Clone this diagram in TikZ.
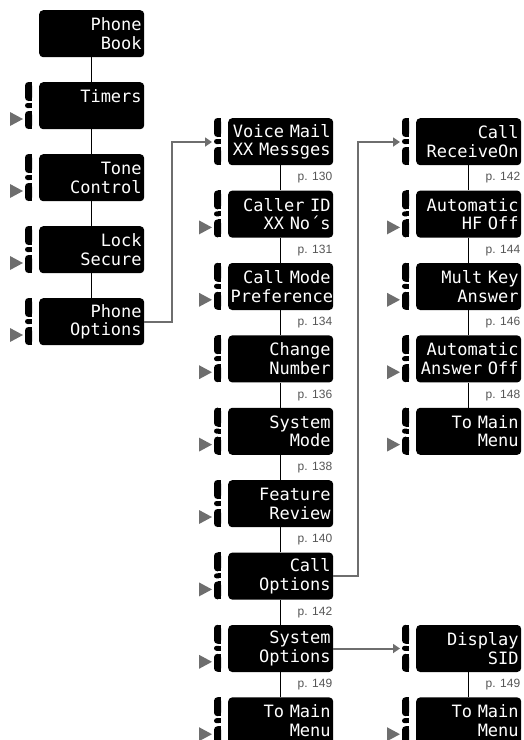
\documentclass[tikz,border=0pt]{standalone}
\usepackage{fontspec}
\setsansfont{Liberation Sans}
\newfontfamily\lcdfont{DejaVu Sans Mono}
\usetikzlibrary{arrows.meta}
\definecolor{keygray}{HTML}{6E6E6E}
\definecolor{pagegray}{HTML}{555555}
\tikzset{
  keys/.pic={
    \fill[rounded corners=3.5pt] (-14,0) rectangle (-7,19); \fill (-10,0) rectangle (-7,19);
    \fill[rounded corners=2.5pt] (-14,21) rectangle (-7,26); \fill (-10,21) rectangle (-7,26);
    \fill[rounded corners=3.5pt] (-14,29) rectangle (-7,47); \fill (-10,29) rectangle (-7,47);
  },
  keysmark/.pic={
    \pic {keys};
    \fill[keygray] (-29,30) -- (-16,37) -- (-29,44) -- cycle;
  }
}
\begin{document}
\begin{tikzpicture}[x=1pt,y=-1pt,
  menubox/.style={fill=black,rounded corners=4pt,text=white,anchor=north west,minimum height=47pt,text width=100pt,inner xsep=2.5pt,inner ysep=0pt,align=right,font=\lcdfont\fontsize{17}{18.5}\selectfont},
  pagelbl/.style={anchor=north east,inner sep=0pt,text=pagegray,font=\sffamily\fontsize{12}{14}\selectfont},
  menuline/.style={line width=1.3pt},
  jump/.style={keygray,line width=2pt,-{Triangle[length=7pt,width=9pt]}}]
\useasboundingbox (0,0) rectangle (523,740);
% Phone book menu
\foreach \i/\nm/\txt in {0/pb/{Phone\\Book},1/tm/{Timers\\\mbox{}},2/tc/{Tone\\Control},3/ls/{Lock\\Secure},4/po/{Phone\\Options}} {\node[menubox] (\nm) at (39,10+72*\i) {\txt};}
% Phone options menu
\foreach \i/\nm/\txt in {0/vm/{Voice Mail\\XX Messges},1/ci/{Caller ID\\XX No´s},2/cm/{Call Mode\\Preference},3/cn/{Change\\Number},4/sm/{System\\Mode},5/fr/{Feature\\Review},6/co/{Call\\Options},7/so/{System\\Options},8/mmb/{To Main\\Menu}} {\node[menubox] (\nm) at (228,118+72.4*\i) {\txt};}
% Call options and system options menus
\foreach \i/\nm/\txt in {0/cr/{Call\\ReceiveOn},1/ah/{Automatic\\HF Off},2/mk/{Mult Key\\Answer},3/aa/{Automatic\\Answer Off},4/mmc/{To Main\\Menu},7/ds/{Display\\SID},8/mmd/{To Main\\Menu}} {\node[menubox] (\nm) at (416,118+72.4*\i) {\txt};}
% side keys
\foreach \nm in {vm,cr,ds} \pic at (\nm.north west) {keys};
\foreach \nm in {tm,tc,ls,po,ci,cm,cn,sm,fr,co,so,mmb,ah,mk,aa,mmc,mmd} \pic at (\nm.north west) {keysmark};
\foreach \nm in {vm,cr,ds} \coordinate (\nm-in) at ([shift={(-16,24)}]\nm.north west);
% page references
\foreach \nm/\pg in {vm/130,ci/131,cm/134,cn/136,sm/138,fr/140,co/142,so/149,cr/142,ah/144,mk/146,aa/148,ds/149} {\node[pagelbl] (\nm-pg) at ([shift={(-1,7)}]\nm.south east) {p. \pg};}
% menu lines
\foreach \a/\b in {pb/tm,tm/tc,tc/ls,ls/po,vm/ci,ci/cm,cm/cn,cn/sm,sm/fr,fr/co,co/so,so/mmb,cr/ah,ah/mk,mk/aa,aa/mmc,ds/mmd} \draw[menuline] (\a.south) -- (\b.north);
\draw[jump] (po.east) -- ++(28,0) |- (vm-in);
\draw[jump] (co.east) -- ++(25,0) |- (cr-in);
\draw[jump] (so.east) -- (so.east -| ds-in);
\end{tikzpicture}
\end{document}
